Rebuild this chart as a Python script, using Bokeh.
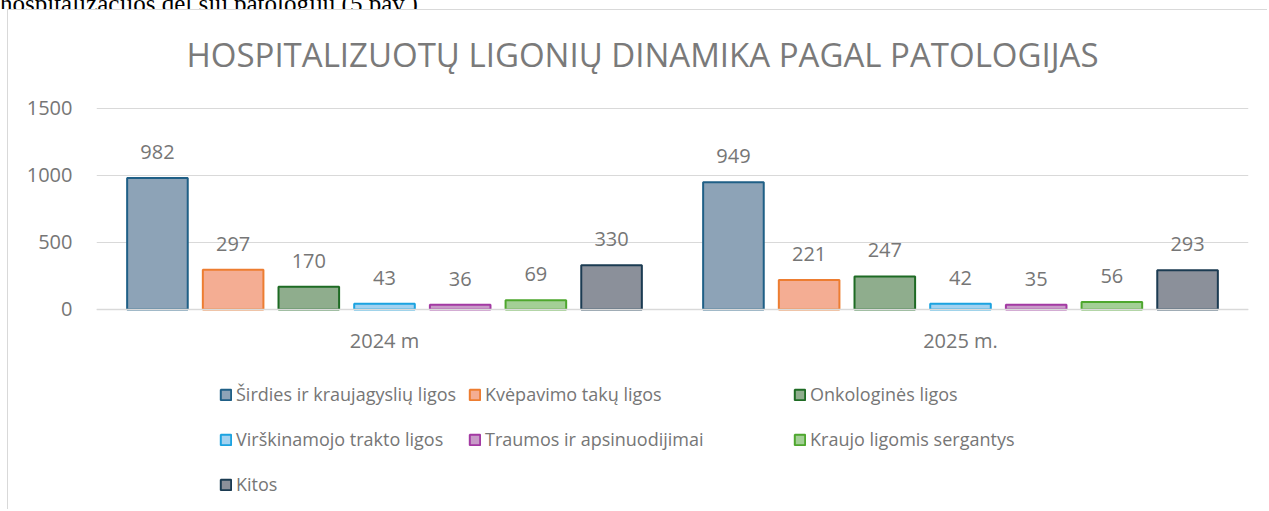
from bokeh.plotting import figure
from bokeh.models import ColumnDataSource, FactorRange, Range1d, FixedTicker, Legend, LegendItem, Label, Span, Div
from bokeh.layouts import column
from bokeh.transform import dodge
from bokeh.core.properties import value
from bokeh.embed import file_html
from bokeh.resources import INLINE

# ---- data ----
years = ["2024 m", "2025 m."]
series_names = [
    "Širdies ir kraujagyslių ligos",
    "Kvėpavimo takų ligos",
    "Onkologinės ligos",
    "Virškinamojo trakto ligos",
    "Traumos ir apsinuodijimai",
    "Kraujo ligomis sergantys",
    "Kitos",
]
sirdies = [982, 949]
kvepavimo = [297, 221]
onkologines = [170, 247]
virskinamojo = [43, 42]
traumos = [36, 35]
kraujo = [69, 56]
kitos = [330, 293]
y_ticks = [0, 500, 1000, 1500]
title_text = "HOSPITALIZUOTŲ LIGONIŲ DINAMIKA PAGAL PATOLOGIJAS"
page_text = "hospitalizacijos dėl šių patologijų (5 pav.)."

series_values = [sirdies, kvepavimo, onkologines, virskinamojo, traumos, kraujo, kitos]

fills = ["#8DA3B7", "#F4AD93", "#8FAD8D", "#A3D2F0", "#C89BC8", "#A3CF96", "#8B909A"]
lines = ["#1F5F86", "#ED7D31", "#1E6B24", "#1CA3E0", "#A33AA3", "#4EA72E", "#1B3B52"]

FONT = "Open Sans"
TXT = "#767676"

data = {"cat": years}
for i, vals in enumerate(series_values):
    data[f"s{i}"] = vals
    data[f"l{i}"] = [str(v) for v in vals]
source = ColumnDataSource(data)

# frame spans the whole chart height so that title and legend live inside it;
# 500 units = 67 px, value 0 sits 201 px above the frame bottom
p = figure(
    width=1260, height=500,
    x_range=FactorRange(*years, range_padding=0),
    y_range=Range1d(-1500, 2231.3),
    x_axis_location=None,
    output_backend="svg", toolbar_location=None,
    min_border_left=88, min_border_right=20, min_border_top=0, min_border_bottom=0,
    styles={"margin-left": "7px",
            "border-left": "1px solid #D9D9D9", "border-top": "1px solid #D9D9D9"},
)
p.outline_line_color = None
p.background_fill_color = "white"
p.border_fill_color = "white"

pitch = 0.1314
bw = 0.1052
renderers = []
for i in range(7):
    off = (i - 3) * pitch
    r = p.vbar(x=dodge("cat", off, range=p.x_range), top=f"s{i}", width=bw, bottom=0,
               source=source, fill_color=fills[i], line_color=lines[i], line_width=2)
    renderers.append(r)
    p.text(x=dodge("cat", off, range=p.x_range), y=f"s{i}", text=f"l{i}", source=source,
           text_font=value(FONT), text_font_size="20px", text_color=TXT,
           text_align="center", text_baseline="middle", y_offset=-26)

# baseline (category axis line)
p.add_layout(Span(location=0, dimension="width", line_color="#D9D9D9", line_width=1.5))

# category labels
p.text(x="cat", y=0, text="cat", source=source,
       text_font=value(FONT), text_font_size="20px", text_color=TXT,
       text_align="center", text_baseline="middle", y_offset=31)

# y axis
p.yaxis.ticker = FixedTicker(ticks=y_ticks)
p.yaxis.axis_line_color = None
p.yaxis.major_tick_line_color = None
p.yaxis.minor_tick_line_color = None
p.yaxis.major_label_standoff = 18
p.yaxis.major_label_text_font = FONT
p.yaxis.major_label_text_font_size = "20px"
p.yaxis.major_label_text_color = TXT

p.xgrid.grid_line_color = None
p.ygrid.grid_line_color = "#D9D9D9"
p.ygrid.grid_line_width = 1

# title (frame-relative screen coords)
p.add_layout(Label(x=546, y=456, x_units="screen", y_units="screen", text=title_text,
                   text_font=FONT, text_font_size="33px", text_color="#7A7A7A",
                   text_align="center", text_baseline="middle"))

# legend: one legend per item, placed like the reference's flow layout
cols_x = [123, 372, 697]
rows_y = [103, 58, 13]
placement = [(0, 0), (0, 1), (0, 2), (1, 0), (1, 1), (1, 2), (2, 0)]
for i, (row, col) in enumerate(placement):
    lg = Legend(items=[LegendItem(label=series_names[i], renderers=[renderers[i]])],
                location=(cols_x[col], rows_y[row]), orientation="vertical",
                padding=0, margin=0, spacing=0,
                glyph_width=13, glyph_height=13, label_height=26, label_standoff=4,
                label_text_font=FONT, label_text_font_size="18px", label_text_color=TXT,
                border_line_alpha=0, background_fill_alpha=0)
    p.add_layout(lg, "center")

# the document line above the chart, of which only the lower part shows
div = Div(text=('<div style="font-family:\'Liberation Serif\';font-size:25px;line-height:25px;'
                'color:#000;white-space:nowrap;margin-top:-16px;">' + page_text + '</div>'),
          width=1269, height=9, margin=(0, 0, 0, 0), styles={"overflow": "hidden"})

layout = column(div, p, spacing=0)

open("out.html", "w").write(file_html(layout, INLINE))
